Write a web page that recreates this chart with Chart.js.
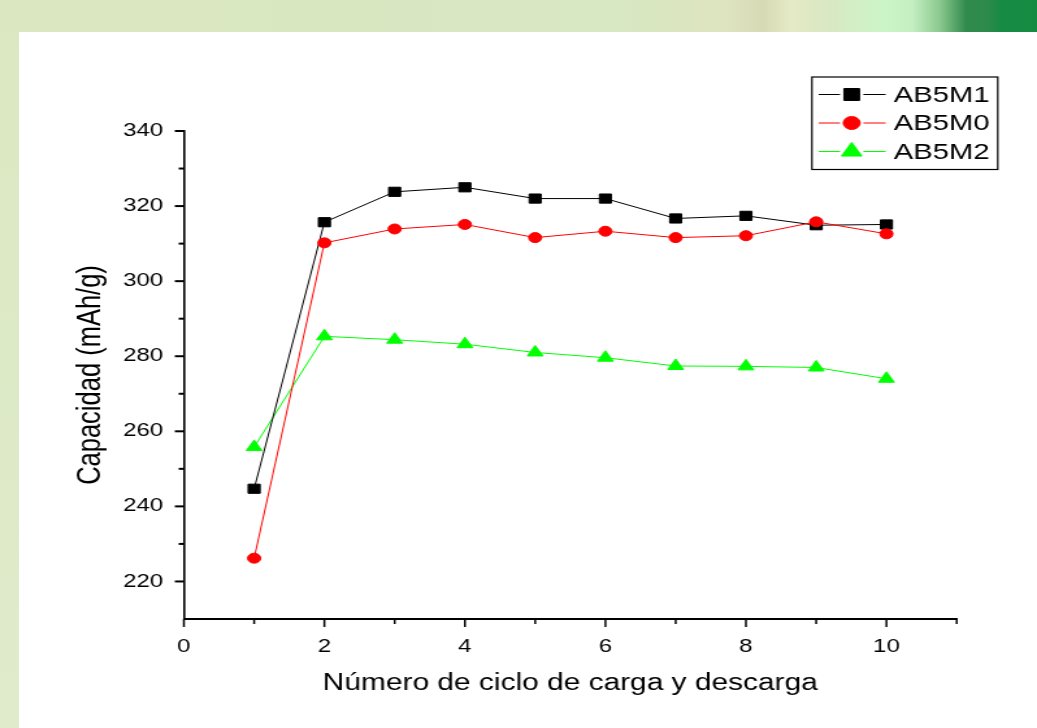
<!DOCTYPE html>
<html>
<head>
<meta charset="utf-8">
<script src="https://cdn.jsdelivr.net/npm/chart.js@4/dist/chart.umd.min.js"></script>
<style>
  html, body { margin: 0; padding: 0; width: 1037px; height: 728px; overflow: hidden; background: #ffffff; }
  #band {
    position: absolute; left: 0; top: 0; width: 1037px; height: 32px;
    background: linear-gradient(to right,
      #dbe7c1 0%, #d8e8c2 60%, #dde4bf 70%, #d7dbb5 73.6%, #e4eac5 76.2%,
      #d9e8c3 80%, #cbf5c6 85.2%, #c4efc1 88%, #8cc98f 90.6%, #2f8a4b 93.2%,
      #2e8a4a 95.2%, #168b43 96.5%, #158b42 100%);
  }
  #strip {
    position: absolute; left: 0; top: 32px; width: 19px; height: 696px;
    background: linear-gradient(to bottom, #dbe8c1, #dfebcb);
  }
  #wrap {
    position: absolute; left: 0; top: 0; width: 798px; height: 728px;
    transform: scaleX(1.2995); transform-origin: 0 0;
  }
  canvas { display: block; }
</style>
</head>
<body>
<div id="band"></div>
<div id="strip"></div>
<div id="wrap"><canvas id="chart" width="798" height="728" style="width:798px;height:728px"></canvas></div>
<script>
// Cycle numbers and measured discharge capacities (mAh/g)
const cycles = [1, 2, 3, 4, 5, 6, 7, 8, 9, 10];
const ab5m1 = [244.7, 315.7, 323.8, 325.0, 322.0, 322.0, 316.7, 317.4, 314.9, 315.1];
const ab5m0 = [226.2, 310.2, 313.9, 315.1, 311.6, 313.3, 311.6, 312.1, 315.8, 312.6];
const ab5m2 = [255.8, 285.3, 284.4, 283.2, 281.0, 279.6, 277.4, 277.3, 277.0, 274.0];

// Axis tick values
const xTickValues = [0, 2, 4, 6, 8, 10];
const xMinorValues = [1, 3, 5, 7, 9, 11];
const yTickValues = [220, 240, 260, 280, 300, 320, 340];
const yMinorValues = [230, 250, 270, 290, 310, 330];

const FONT = '"Liberation Sans", Arial, sans-serif';

const toPoints = vals => vals.map((v, i) => ({ x: cycles[i], y: v }));

// Major/minor tick marks drawn outward from both axes
const axisTicks = {
  id: 'axisTicks',
  afterDraw(chart) {
    const { ctx, chartArea, scales: { x, y } } = chart;
    ctx.save();
    ctx.strokeStyle = '#000';
    const seg = (x1, y1, x2, y2, w) => {
      ctx.lineWidth = w;
      ctx.beginPath(); ctx.moveTo(x1, y1); ctx.lineTo(x2, y2); ctx.stroke();
    };
    xTickValues.forEach(v => { const p = x.getPixelForValue(v); seg(p, chartArea.bottom, p, chartArea.bottom + 8, 1.5); });
    xMinorValues.forEach(v => { const p = x.getPixelForValue(v); seg(p, chartArea.bottom, p, chartArea.bottom + 5, 1.5); });
    yTickValues.forEach(v => { const p = y.getPixelForValue(v); seg(chartArea.left, p, chartArea.left - 7, p, 2); });
    yMinorValues.forEach(v => { const p = y.getPixelForValue(v); seg(chartArea.left, p, chartArea.left - 4, p, 2); });
    ctx.restore();
  }
};

// Boxed legend in the upper right corner
const boxLegend = {
  id: 'boxLegend',
  afterDraw(chart) {
    const ctx = chart.ctx;
    const L = 624.8, T = 77, R = 767.8, B = 169.5;
    ctx.save();
    ctx.strokeStyle = '#000';
    ctx.lineWidth = 1.2;
    ctx.strokeRect(L, T, R - L, B - T);
    ctx.font = '22.5px ' + FONT;
    ctx.textBaseline = 'middle';
    ctx.textAlign = 'left';
    chart.data.datasets.forEach((ds, i) => {
      const cy = 94.5 + i * 28.5;
      const mx = 655.4;
      ctx.strokeStyle = ds.borderColor;
      ctx.lineWidth = 1;
      ctx.beginPath();
      ctx.moveTo(630, cy); ctx.lineTo(mx - 9, cy);
      ctx.moveTo(mx + 9, cy); ctx.lineTo(681.5, cy);
      ctx.stroke();
      ctx.fillStyle = ds.pointBackgroundColor;
      ctx.strokeStyle = ds.pointBorderColor;
      Chart.helpers.drawPoint(ctx, { pointStyle: ds.pointStyle, radius: ds.pointRadius * 1.3, rotation: 0, borderWidth: 1 }, mx, cy);
      ctx.fillStyle = '#000';
      ctx.fillText(ds.label, 687.7, cy + 1);
    });
    ctx.restore();
  }
};

new Chart(document.getElementById('chart'), {
  type: 'line',
  data: {
    datasets: [
      {
        label: 'AB5M1', data: toPoints(ab5m1), order: 1,
        borderColor: '#000000', borderWidth: 1,
        pointStyle: 'rect', pointRadius: 6.5,
        pointBackgroundColor: '#000000', pointBorderColor: '#000000', pointBorderWidth: 1
      },
      {
        label: 'AB5M0', data: toPoints(ab5m0), order: 0,
        borderColor: '#ff0000', borderWidth: 1,
        pointStyle: 'circle', pointRadius: 5,
        pointBackgroundColor: '#ff0000', pointBorderColor: '#ff0000', pointBorderWidth: 1
      },
      {
        label: 'AB5M2', data: toPoints(ab5m2), order: 2,
        borderColor: '#00ff00', borderWidth: 1,
        pointStyle: 'triangle', pointRadius: 7,
        pointBackgroundColor: '#00ff00', pointBorderColor: '#00ff00', pointBorderWidth: 1
      }
    ]
  },
  options: {
    responsive: false,
    animation: false,
    devicePixelRatio: 1,
    events: [],
    clip: false,
    layout: { padding: { left: 0, top: 131, right: 61.8, bottom: 0 } },
    plugins: { legend: { display: false }, tooltip: { enabled: false } },
    scales: {
      x: {
        type: 'linear', min: 0, max: 11,
        afterBuildTicks: s => { s.ticks = xTickValues.map(v => ({ value: v })); },
        afterFit: s => { s.height = 109; },
        grid: { display: false, drawTicks: false },
        border: { display: true, color: '#000', width: 2 },
        ticks: { color: '#000', padding: 17, maxRotation: 0, autoSkip: false, font: { family: FONT, size: 18.5 } },
        title: { display: true, text: 'Número de ciclo de carga y descarga', color: '#000',
                 font: { family: FONT, size: 23 }, padding: { top: 0, bottom: 31 } }
      },
      y: {
        type: 'linear', min: 210, max: 340,
        afterBuildTicks: s => { s.ticks = yTickValues.map(v => ({ value: v })); },
        afterFit: s => { s.width = 141.5; },
        grid: { display: false, drawTicks: false },
        border: { display: true, color: '#000', width: 1.6 },
        ticks: { color: '#000', padding: 16, autoSkip: false, font: { family: FONT, size: 18.5 } },
        title: { display: true, text: 'Capacidad (mAh/g)', color: '#000',
                 font: { family: FONT, size: 25.5 }, padding: { top: 55, bottom: 0 } }
      }
    }
  },
  plugins: [axisTicks, boxLegend]
});
</script>
</body>
</html>
